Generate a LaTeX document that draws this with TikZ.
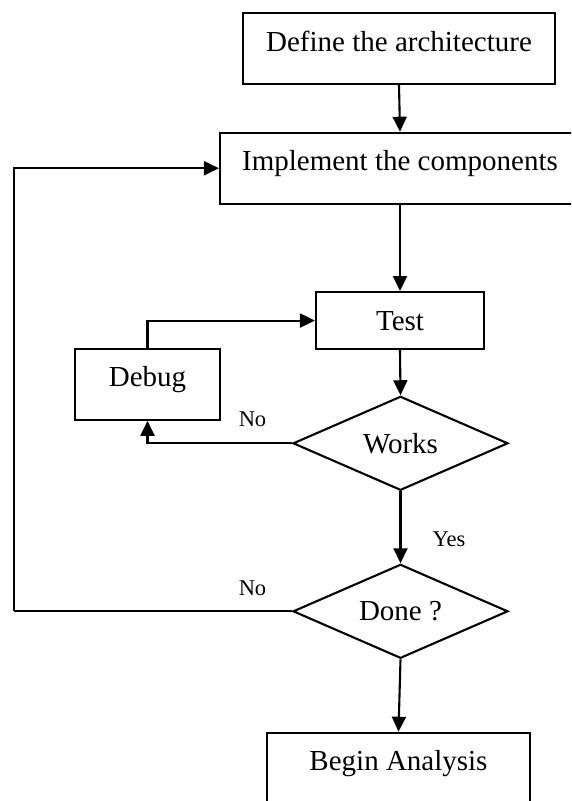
\documentclass[tikz,border=0pt]{standalone}
\usepackage{fontspec}
\setmainfont{Liberation Serif}
\usetikzlibrary{arrows.meta,shapes.geometric}

\tikzset{
  stage/.style={draw, line width=2.1pt, rectangle, inner sep=0pt,
    text height=38pt, text depth=33pt, anchor=north,
    font=\fontsize{29}{34}\selectfont},
  decision/.style={draw, line width=2.1pt, diamond, inner sep=0pt,
    shape aspect=2.3, minimum width=215pt, minimum height=94pt,
    font=\fontsize{29}{34}\selectfont},
  branch/.style={font=\fontsize{22.5}{26}\selectfont, inner sep=0pt},
  flow/.style={line width=2.1pt, -{Triangle[length=15pt,width=14pt]}},
  plain/.style={line width=2.1pt}
}

\begin{document}
\begin{tikzpicture}[x=1pt,y=-1pt]
  \useasboundingbox (0,0) rectangle (571,801);
  \clip (0,0) rectangle (571,801);

  % process boxes
  \node[stage, minimum width=312pt] (def) at (399,12) {Define the architecture};
  \node[stage, minimum width=360pt] (impl) at (400,131.7) {Implement the components};
  \node[stage, minimum width=168pt, text depth=19pt] (test) at (400,291) {Test};
  \node[stage, minimum width=145.6pt] (debug) at (147.5,347.7) {Debug};
  \node[stage, minimum width=263pt] (begin) at (398.5,731.7) {Begin Analysis};

  % decisions
  \node[decision] (works) at (400.5,443.3) {Works};
  \node[decision] (done) at (400.5,611.3) {Done ?};

  % branch labels
  \node[branch] (no1) at (252.5,419) {No};
  \node[branch] (yes) at (449,539) {Yes};
  \node[branch] (no2) at (252.5,588) {No};

  % main flow
  \draw[flow] (def.south) -- (impl.north);
  \draw[flow] (impl.south) -- (test.north);
  \draw[flow] (test.south) -- (works.north);
  \draw[flow] (works.south) -- (done.north);
  \draw[flow] (done.south) -- (begin.north);

  % debug loop
  \draw[flow] (works.west) -| (debug.south);
  \draw[flow] (debug.north) |- (test.west);

  % return to implementation
  \coordinate (back) at (13.8,611.3);
  \draw[plain] (done.west) -- (back);
  \draw[flow] (back) |- (impl.west);
\end{tikzpicture}
\end{document}
